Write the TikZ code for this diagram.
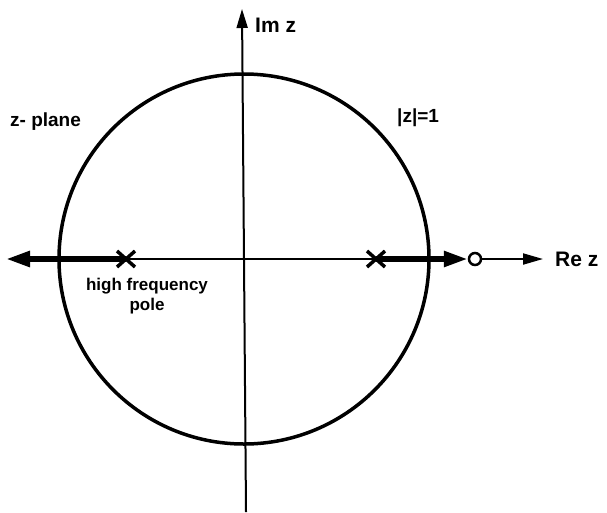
\documentclass[tikz,border=0pt]{standalone}
\usepackage{fontspec}
\setmainfont{Liberation Sans}
\usetikzlibrary{arrows.meta,calc}
\tikzset{
  axis/.style={line width=2pt},
  thickarr/.style={line width=5.5pt,-{Triangle[length=24pt,width=15pt]}},
  lab/.style={font=\bfseries\fontsize{21}{23}\selectfont, inner sep=0pt},
  midlab/.style={font=\bfseries\fontsize{19}{21}\selectfont, inner sep=0pt},
  smalllab/.style={font=\bfseries\fontsize{17}{20}\selectfont, inner sep=0pt, align=center},
  cross/.style={line width=3.5pt}
}
\begin{document}
\begin{tikzpicture}[x=1pt,y=-1pt]
\useasboundingbox (0,0) rectangle (607,512);
% unit circle
\coordinate (O) at (244,259);
\node[circle, draw, line width=3.5pt, minimum size=370pt, inner sep=0pt] (uc) at (O) {};
% axes
\coordinate (vtop) at (242,9);
\coordinate (vbot) at (246,512);
\draw[axis,-{Triangle[length=19pt,width=11pt]}] (vbot) -- (vtop);
\coordinate (pL) at (126,259);
\coordinate (pR) at (376,259);
\coordinate (leftend) at (6,259);
\coordinate (reend) at (543,259);
\node[circle, draw, line width=2.5pt, minimum size=12pt, inner sep=0pt, fill=white] (zero) at (475,259) {};
\draw[axis] (pL) -- (pR);
\draw[thickarr] (pL) -- (leftend);
\draw[thickarr] (pR) -- (zero.west);
\draw[axis,-{Triangle[length=20pt,width=11pt]}] (zero.east) -- (reend);
% poles
\draw[cross] ($(pL)+(-9,-8)$) -- ($(pL)+(9,8)$) ($(pL)+(-9,8)$) -- ($(pL)+(9,-8)$);
\draw[cross] ($(pR)+(-9,-8)$) -- ($(pR)+(9,8)$) ($(pR)+(-9,8)$) -- ($(pR)+(9,-8)$);
% labels
\node[lab, anchor=west] (imz) at (255,25) {Im z};
\node[lab, anchor=west] (rez) at (555,259) {Re z};
\node[midlab, anchor=west] (zp) at (10,122) {z- plane};
\node[midlab, anchor=west] (z1) at (397,118) {|z|=1};
\node[smalllab] (hfp) at (147,296) {high frequency\\pole};
\end{tikzpicture}
\end{document}
